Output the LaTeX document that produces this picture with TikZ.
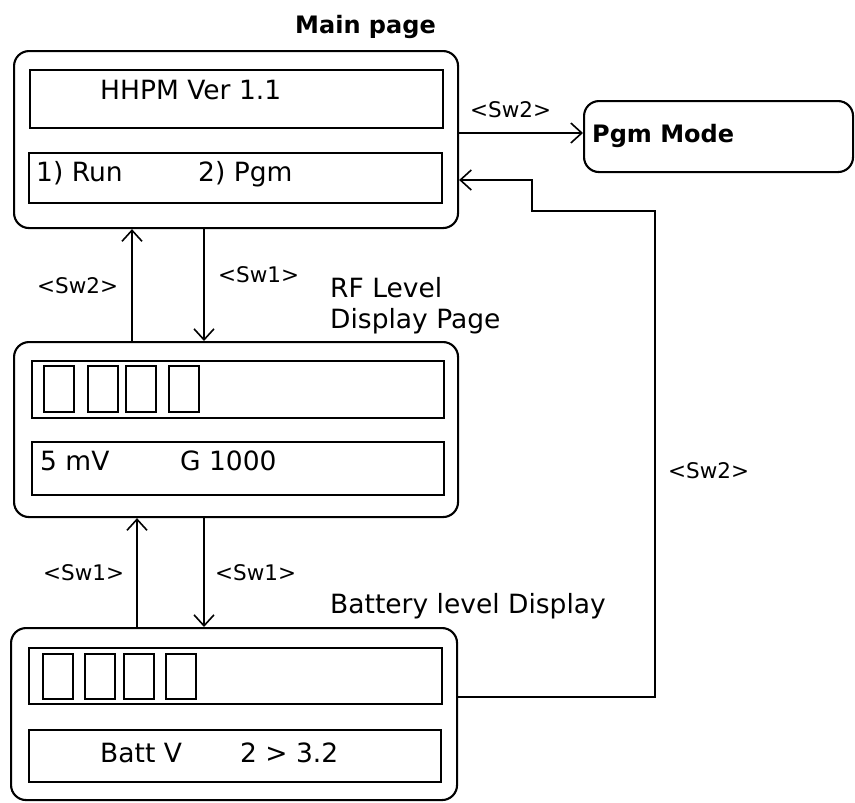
\documentclass[tikz,border=0pt]{standalone}
\usepackage{fontspec}
\setmainfont{DejaVu Sans}
\usetikzlibrary{arrows.meta}
\begin{document}
\begin{tikzpicture}[x=1pt,y=-1pt,
  box/.style={draw, line width=2.1pt, rounded corners=15pt, inner sep=0pt, anchor=north west},
  lcd/.style={draw, line width=2.1pt, inner sep=0pt, anchor=north west},
  cell/.style={draw, line width=1.7pt, inner sep=0pt, anchor=north west, minimum width=30pt, minimum height=46pt},
  txt/.style={inner sep=0pt, anchor=base west, font=\fontsize{26.5}{31}\selectfont},
  btxt/.style={inner sep=0pt, anchor=base west, font=\bfseries\fontsize{24}{28}\selectfont},
  lbl/.style={inner sep=0pt, anchor=base west, font=\fontsize{21.5}{25}\selectfont},
  conn/.style={line width=1.9pt, -{Straight Barb[length=11pt,width=20pt,line width=1.6pt]}}
]
\useasboundingbox (0,0) rectangle (855,803);

% Main page
\node[box, minimum width=444pt, minimum height=177pt] (main) at (13,50) {};
\node[lcd, minimum width=413pt, minimum height=58pt] (mainA) at (29,69) {};
\node[lcd, minimum width=413pt, minimum height=50pt] (mainB) at (28,152) {};
\node[btxt] (tmain) at (295,33) {Main page};
\node[txt] (thhpm) at (100,99) {HHPM Ver 1.1};
\node[txt] (trun) at (36,181) {1) Run};
\node[txt] (tpgm) at (198,181) {2) Pgm};

% Pgm mode
\node[box, minimum width=269pt, minimum height=71pt] (pgm) at (583,100) {};
\node[btxt] (tpgmmode) at (592,142) {Pgm Mode};

% RF level page
\node[box, minimum width=444pt, minimum height=175pt] (rf) at (13,341) {};
\node[lcd, minimum width=412pt, minimum height=57pt] (rfA) at (31,360) {};
\node[lcd, minimum width=412pt, minimum height=53pt] (rfB) at (31,441) {};
\node[cell] (rc1) at (43,365) {};
\node[cell] (rc2) at (87,365) {};
\node[cell] (rc3) at (125,365) {};
\node[cell] (rc4) at (168,365) {};
\node[txt] (trf1) at (330,297) {RF Level};
\node[txt] (trf2) at (330,328) {Display Page};
\node[txt] (tmv) at (40,470) {5 mV};
\node[txt] (tg) at (180,470) {G 1000};

% Battery page
\node[box, minimum width=446pt, minimum height=172pt] (bat) at (10,627) {};
\node[lcd, minimum width=413pt, minimum height=56pt] (batA) at (28,647) {};
\node[lcd, minimum width=412pt, minimum height=52pt] (batB) at (28,729) {};
\node[cell, minimum height=45pt] (bc1) at (42,653) {};
\node[cell, minimum height=45pt] (bc2) at (84,653) {};
\node[cell, minimum height=45pt] (bc3) at (123,653) {};
\node[cell, minimum height=45pt] (bc4) at (165,653) {};
\node[txt] (tbat) at (330,613) {Battery level Display};
\node[txt] (tbv) at (100,762) {Batt V};
\node[txt] (tbv2) at (240,762) {2 > 3.2};

% Labels
\node[lbl] (l1) at (470,117) {<Sw2>};
\node[lbl] (l2) at (37,293) {<Sw2>};
\node[lbl] (l3) at (218,282) {<Sw1>};
\node[lbl] (l4) at (43,580) {<Sw1>};
\node[lbl] (l5) at (215,580) {<Sw1>};
\node[lbl] (l6) at (668,478) {<Sw2>};

% Connectors
\draw[conn] (main.east |- 0,133) -- (pgm.west |- 0,133);
\draw[conn] (main.south -| 204,0) -- (rf.north -| 204,0);
\draw[conn] (rf.north -| 132,0) -- (main.south -| 132,0);
\draw[conn] (bat.north -| 137,0) -- (rf.south -| 137,0);
\draw[conn] (rf.south -| 204,0) -- (bat.north -| 204,0);
\coordinate (f1) at (655,697);
\coordinate (f2) at (655,211);
\coordinate (f3) at (532,211);
\coordinate (f4) at (532,180);
\draw[conn] (bat.east |- f1) -- (f1) -- (f2) -- (f3) -- (f4) -- (main.east |- f4);
\end{tikzpicture}
\end{document}
